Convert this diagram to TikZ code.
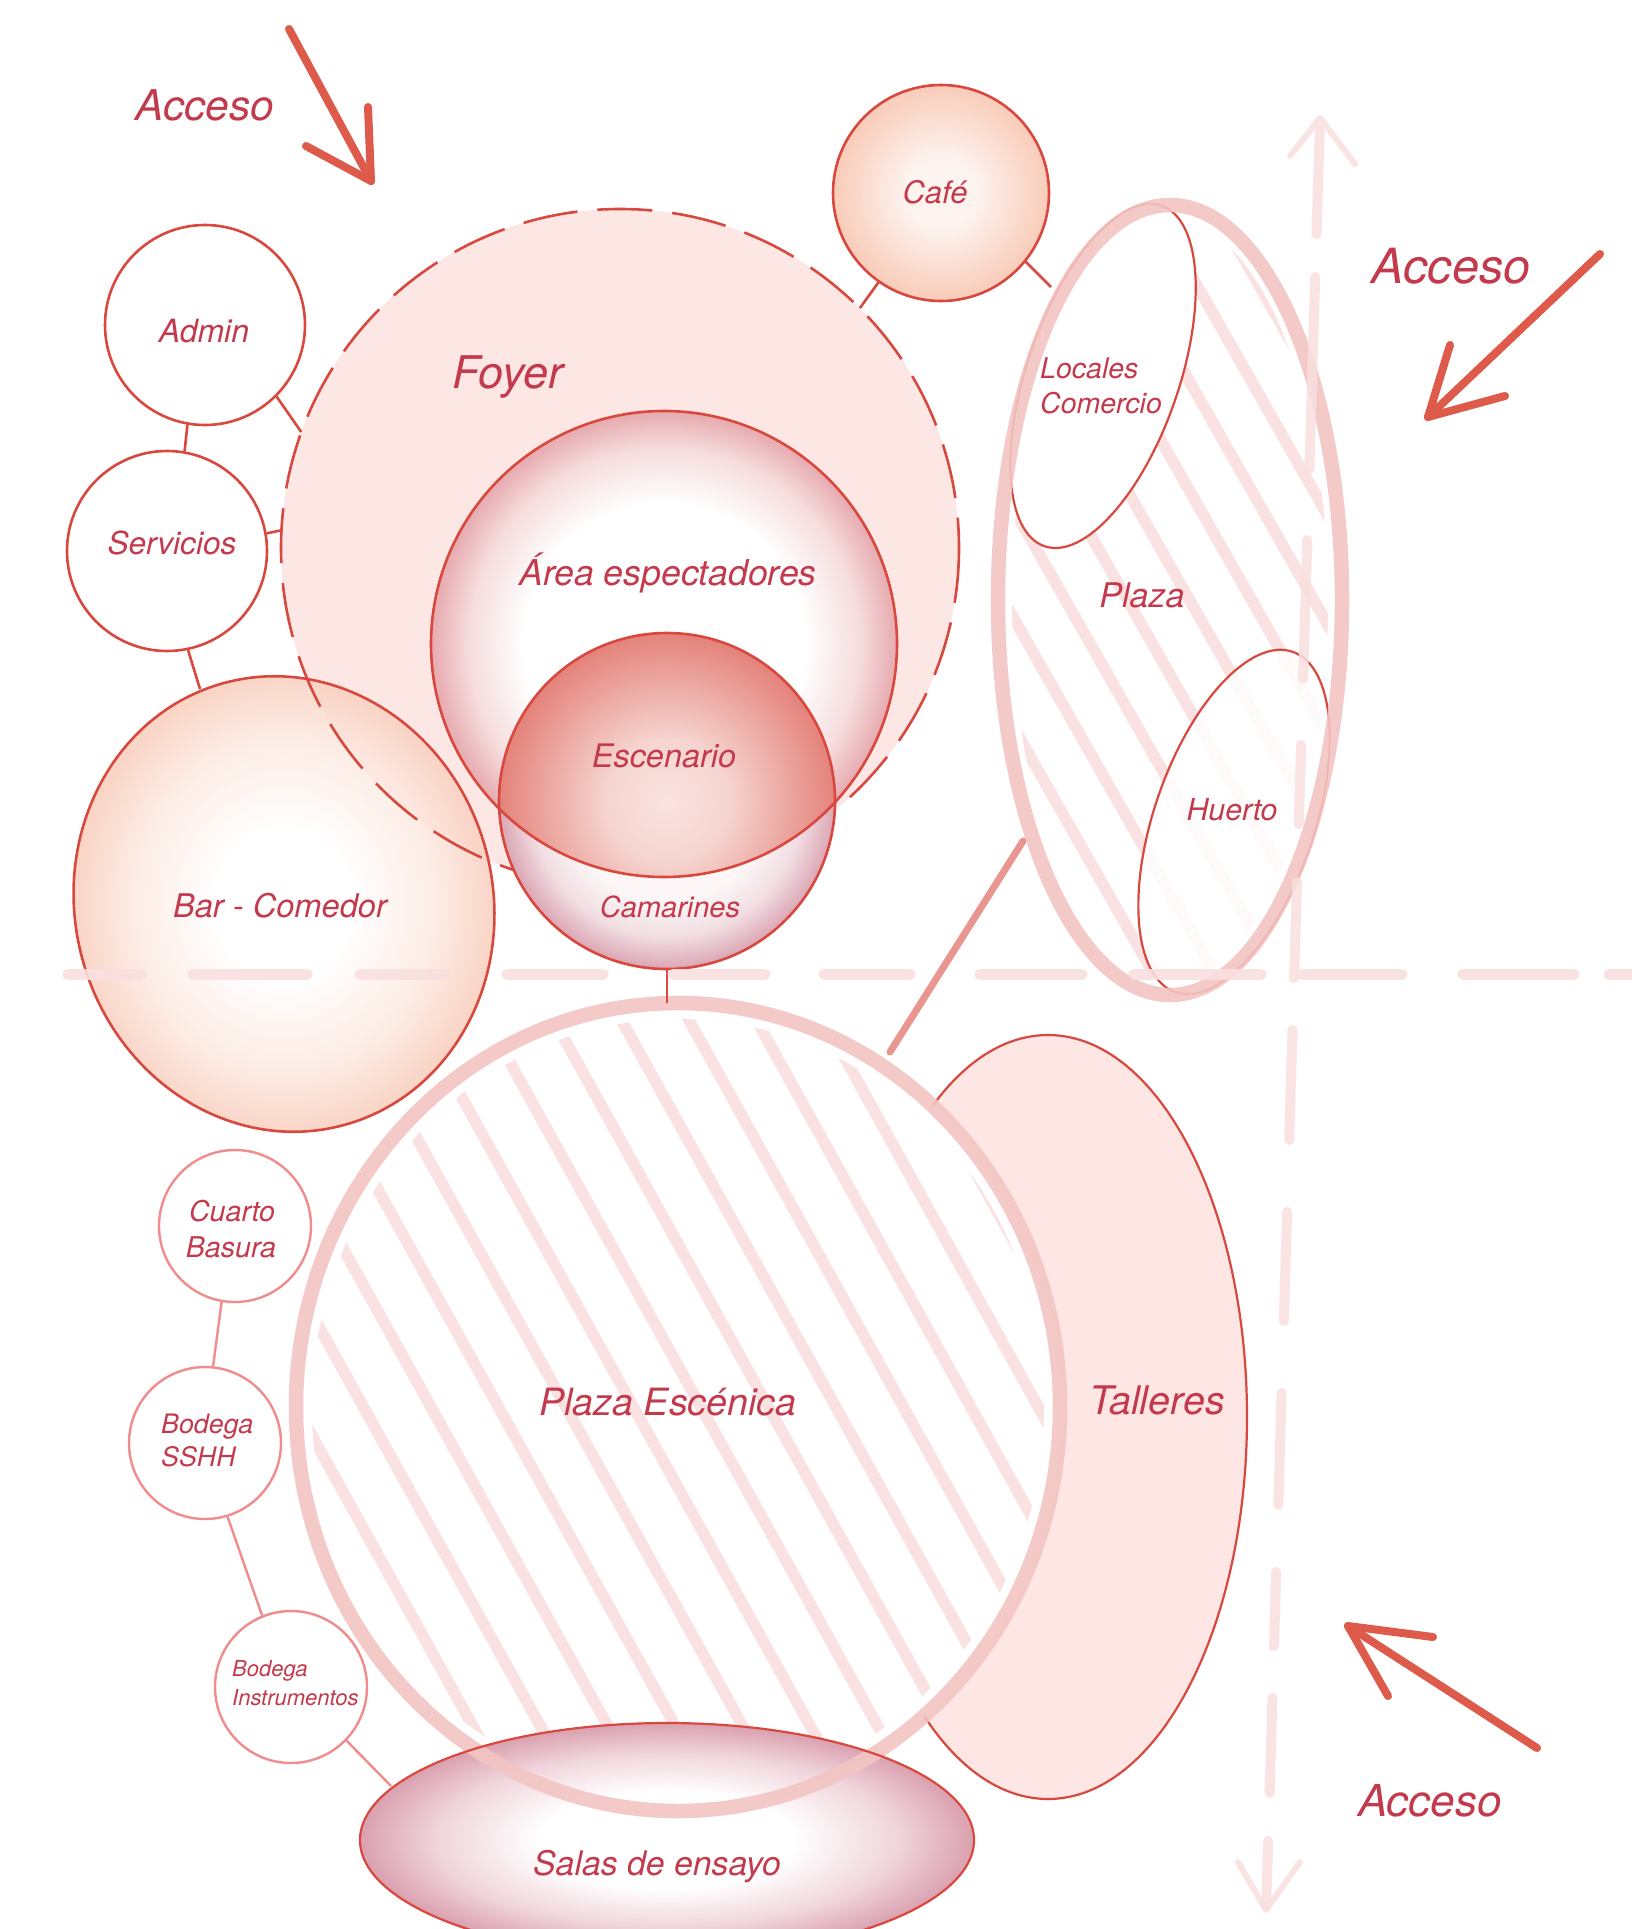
\documentclass[tikz,border=0pt]{standalone}
\usepackage{fontspec}
\newfontfamily\lblfont{TeX Gyre Heros}
\usetikzlibrary{calc}
\definecolor{rd}{HTML}{D8483E}
\definecolor{lblc}{HTML}{C43A4D}
\definecolor{pk}{HTML}{F08C8C}
\definecolor{ringc}{HTML}{F2C5C2}
\definecolor{hatchc}{HTML}{F9E2E1}
\definecolor{guidec}{HTML}{F9E0DF}
\definecolor{arrc}{HTML}{DE5A4B}
\definecolor{foyerc}{HTML}{FDE7E5}
\definecolor{tallerc}{HTML}{FDE6E4}
\definecolor{arearim}{HTML}{E6A9AE}
\definecolor{areamid}{HTML}{F6DCDD}
\definecolor{escin}{HTML}{F9E3E0}
\definecolor{escmid}{HTML}{F6D5D1}
\definecolor{escrim}{HTML}{E4827A}
\definecolor{camin}{HTML}{FCF6F6}
\definecolor{cammid}{HTML}{F1DEE3}
\definecolor{camrim}{HTML}{DBA5B3}
\definecolor{barmid}{HTML}{FDE9E1}
\definecolor{barrim}{HTML}{F9CCBA}
\definecolor{cafein}{HTML}{FDF3EF}
\definecolor{caferim}{HTML}{F9CBB8}
\definecolor{salasmid}{HTML}{F0D5DC}
\definecolor{salasrim}{HTML}{DAA0AF}
\definecolor{plazasc}{HTML}{EA9690}
\pgfdeclareradialshading{areaS}{\pgfpoint{0bp}{0bp}}{color(0bp)=(white); color(140bp)=(white); color(195bp)=(areamid); color(233bp)=(arearim); color(240bp)=(arearim)}
\pgfdeclareradialshading{escS}{\pgfpoint{0bp}{0bp}}{color(0bp)=(escin); color(60bp)=(escmid); color(168bp)=(escrim); color(172bp)=(escrim)}
\pgfdeclareradialshading{camS}{\pgfpoint{0bp}{0bp}}{color(0bp)=(camin); color(100bp)=(camin); color(135bp)=(cammid); color(168bp)=(camrim); color(172bp)=(camrim)}
\pgfdeclareradialshading{barS}{\pgfpoint{0bp}{0bp}}{color(0bp)=(white); color(75bp)=(white); color(165bp)=(barmid); color(229bp)=(barrim); color(235bp)=(barrim)}
\pgfdeclareradialshading{cafeS}{\pgfpoint{0bp}{0bp}}{color(0bp)=(cafein); color(35bp)=(cafein); color(108bp)=(caferim); color(112bp)=(caferim)}
\pgfdeclareradialshading{salasS}{\pgfpoint{0bp}{0bp}}{color(0bp)=(white); color(48bp)=(white); color(87bp)=(salasmid); color(117bp)=(salasrim); color(120bp)=(salasrim)}
\newcommand\lsz[1]{\lblfont\itshape\fontsize{#1pt}{#1pt}\selectfont}
\begin{document}
\begin{tikzpicture}[x=1pt,y=-1pt,
  lbl/.style={text=lblc, inner sep=0pt, anchor=base},
  lblw/.style={text=lblc, inner sep=0pt, anchor=base west},
  redline/.style={draw=rd, line width=2.6pt},
  thinred/.style={draw=rd, line width=2.2pt},
  pinkline/.style={draw=pk, line width=2.4pt},
  bubble/.style={circle, inner sep=0pt, draw=rd, line width=2.6pt},
  smallbubble/.style={circle, inner sep=0pt, draw=pk, line width=2.4pt, fill=white, minimum size=152pt},
  shadebox/.style={inner sep=0pt, outer sep=0pt},
  hatchline/.style={draw=hatchc, line width=11.5pt, line cap=round},
  ringline/.style={draw=ringc, line width=14.5pt, draw opacity=0.9},
  guide/.style={draw=guidec, line width=11pt, line cap=round, draw opacity=0.9},
  vguide/.style={draw=guidec, line width=10pt, line cap=round, draw opacity=0.85},
  accarrow/.style={draw=arrc, line width=8pt, line cap=round, line join=round}]
\fill[white] (0,0) rectangle (1632,1929);
\useasboundingbox (0,0) rectangle (1632,1929);

% ---------- Foyer and Bar - Comedor
\node[circle, inner sep=0pt, minimum size=678pt, fill=foyerc] (foyer) at (620,548) {};
\coordinate (bar) at (284,904);
\begin{scope}
  \clip[rotate around={15:(bar)}] (bar) ellipse (209 and 229);
  \node[shadebox, xscale=0.913, rotate=15, transform shape, text opacity=0.82] (barSh) at (bar) {\pgfuseshading{barS}};
\end{scope}
\draw[draw=rd, line width=2.6pt, dash pattern=on 55pt off 20pt] (foyer.center) circle (339);
\draw[redline, rotate around={15:(bar)}] (bar) ellipse (209 and 229);

% ---------- Area espectadores, Escenario, Camarines
\node[circle, inner sep=0pt, minimum size=466pt] (area) at (664,644) {};
\begin{scope}
  \clip (area.center) circle (233);
  \node[shadebox] (areaSh) at (area.center) {\pgfuseshading{areaS}};
\end{scope}
\node[circle, inner sep=0pt, minimum size=336pt] (stage) at (667,801) {};
\begin{scope}
  \clip (stage.center) circle (168);
  \node[shadebox] (camSh) at (stage.center) {\pgfuseshading{camS}};
  \clip (area.center) circle (233);
  \node[shadebox] (escSh) at (stage.center) {\pgfuseshading{escS}};
\end{scope}
\draw[redline] (area.center) circle (233);
\draw[redline] (stage.center) circle (168);

% ---------- Admin, Servicios, Cafe
\node[bubble, fill=white, minimum size=200pt] (admin) at (205,325) {};
\node[bubble, fill=white, minimum size=200pt] (serv) at (167,551) {};
\node[circle, inner sep=0pt, minimum size=216pt] (cafe) at (941,193) {};
\begin{scope}
  \clip (cafe.center) circle (108);
  \node[shadebox] (cafeSh) at (cafe.center) {\pgfuseshading{cafeS}};
\end{scope}
\draw[redline] (cafe.center) circle (108);
\coordinate (barN) at (200,689);
\coordinate (plazaNW) at (1051,287);
\draw[redline] (admin.-100) -- (serv.80);
\draw[redline] (admin.-45) -- (foyer.160);
\draw[redline] (serv.10) -- (foyer.177);
\draw[redline] (serv.-78) -- (barN);
\draw[redline] (cafe.-125) -- (foyer.45);
\draw[redline] (cafe.-39) -- (plazaNW);

% ---------- Plaza
\coordinate (plaza) at (1170,600);
\begin{scope}
  \clip (plaza) ellipse (158 and 381);
  \foreach \k in {-9,...,9}{
    \draw[hatchline] ({1170+(17+54*\k)*0.869-600*0.494},{600-(17+54*\k)*0.494-600*0.869})
      -- ({1170+(17+54*\k)*0.869+600*0.494},{600-(17+54*\k)*0.494+600*0.869});
  }
\end{scope}
\coordinate (loc) at (1103,376);
\coordinate (huerto) at (1234,822);
\draw[thinred, fill=white, rotate around={71:(loc)}] (loc) ellipse (180 and 76);
\draw[thinred, fill=white, fill opacity=0.85, rotate around={71:(huerto)}] (huerto) ellipse (180 and 80);
\draw[ringline] (plaza) ellipse (172 and 395);

% ---------- Talleres, Plaza Escenica, Salas de ensayo
\coordinate (talleres) at (1048,1417);
\draw[thinred, fill=tallerc] (talleres) ellipse (199 and 382);
\coordinate (pesc) at (678,1407);
\fill[white] (pesc) ellipse (382 and 404);
\begin{scope}
  \clip (pesc) ellipse (366 and 388);
  \foreach \k in {-14,...,14}{
    \draw[hatchline] ({678+(20+59*\k)*0.875-900*0.485},{1407-(20+59*\k)*0.485-900*0.875})
      -- ({678+(20+59*\k)*0.875+900*0.485},{1407-(20+59*\k)*0.485+900*0.875});
  }
\end{scope}
\coordinate (salas) at (667,1840);
\begin{scope}
  \clip (salas) ellipse (307 and 117);
  \node[shadebox, xscale=2.624, transform shape] (salasSh) at (salas) {\pgfuseshading{salasS}};
\end{scope}
\draw[ringline] (pesc) ellipse (382 and 404);
\draw[thinred] (salas) ellipse (307 and 117);

\coordinate (pescN) at (667,1003);
\coordinate (pescNE) at (890,1052);
\coordinate (plazaSW) at (1023,841);
\draw[thinred] (stage.-90) -- (pescN);
\draw[draw=plazasc, line width=7pt, line cap=round] (pescNE) -- (plazaSW);

% ---------- lower left bubbles
\node[smallbubble] (basura) at (235,1226) {};
\node[smallbubble] (sshh) at (205,1443) {};
\node[smallbubble] (instr) at (291,1687) {};
\coordinate (salasNW) at (391,1786);
\draw[pinkline] (basura.-100) -- (sshh.84);
\draw[pinkline] (sshh.-73) -- (instr.112);
\draw[pinkline] (instr.-44) -- (salasNW);

% ---------- guides
\foreach \a/\b in {68/141,193/307,360/445,507/603,673/765,824/910,980/1082,1134/1261,1302/1402,1463/1574,1609/1645}{
  \draw[guide] (\a,974) -- (\b,974);
}
\foreach \ya/\xa/\yb/\xb in {129/1319.7/234/1316.5, 277/1315.2/469/1309.4, 540/1307.3/679/1303.1,
   745/1301.1/824/1298.7, 882/1297.0/978/1294.1, 1030/1292.5/1140/1289.2, 1212/1287.1/1321/1283.8,
   1393/1281.6/1505/1278.3, 1572/1276.2/1646/1274.0, 1698/1272.4/1793/1269.6, 1841/1268.1/1906/1266.2}{
  \draw[vguide] (\xa,\ya) -- (\xb,\yb);
}
\draw[vguide, line width=6pt, line join=round] (1290,156) -- (1320,118) -- (1355,164);
\draw[vguide, line width=6pt, line join=round] (1238,1862) -- (1266,1910) -- (1300,1862);

% ---------- Acceso arrows
\draw[accarrow] (289,29) -- (371,181);
\draw[accarrow] (368,107) -- (371,181) -- (306,146);
\draw[accarrow] (1600,254) -- (1428,417);
\draw[accarrow] (1450,345) -- (1428,417) -- (1505,396);
\draw[accarrow] (1537,1748) -- (1348,1626);
\draw[accarrow] (1433,1637) -- (1348,1626) -- (1388,1696);

% ---------- labels
\node[lbl] (tAcc1) at (205,121) {\lsz{42.4}Acceso};
\node[lbl] (tAcc2) at (1451,283) {\lsz{48.5}Acceso};
\node[lbl] (tAcc3) at (1430,1816) {\lsz{44}Acceso};
\node[lbl] (tAdmin) at (204,342) {\lsz{32}Admin};
\node[lbl] (tServ) at (172,554) {\lsz{31.6}Servicios};
\node[lbl] (tFoyer) at (508,388) {\lsz{45}Foyer};
\node[lbl] (tArea) at (668,585) {\lsz{35.6}Área espectadores};
\node[lbl] (tEsc) at (664,767) {\lsz{32.4}Escenario};
\node[lbl] (tCam) at (670,917) {\lsz{29}Camarines};
\node[lbl] (tBar) at (280,917) {\lsz{32.6}Bar - Comedor};
\node[lbl] (tCafe) at (935,204) {\lsz{31}Café};
\node[lblw] (tLoc1) at (1040,378) {\lsz{28.5}Locales};
\node[lblw] (tLoc2) at (1040,413) {\lsz{28.5}Comercio};
\node[lbl] (tPlaza) at (1142,607) {\lsz{34}Plaza};
\node[lbl] (tHuerto) at (1232,820) {\lsz{30.3}Huerto};
\node[lbl] (tPesc) at (668,1415) {\lsz{37.6}Plaza Escénica};
\node[lbl] (tTall) at (1157,1414) {\lsz{39.4}Talleres};
\node[lbl] (tSalas) at (657,1875) {\lsz{33.8}Salas de ensayo};
\node[lbl] (tBas1) at (232,1221) {\lsz{28.6}Cuarto};
\node[lbl] (tBas2) at (231,1257) {\lsz{28.6}Basura};
\node[lblw] (tSS1) at (161,1433) {\lsz{26.8}Bodega};
\node[lblw] (tSS2) at (161,1466) {\lsz{26.8}SSHH};
\node[lblw] (tIn1) at (232,1676) {\lsz{22}Bodega};
\node[lblw] (tIn2) at (232,1705) {\lsz{22}Instrumentos};
\end{tikzpicture}
\end{document}
